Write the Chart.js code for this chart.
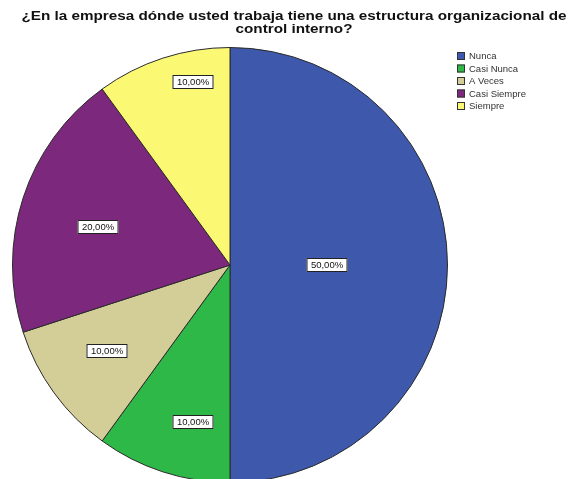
<!DOCTYPE html>
<html>
<head>
<meta charset="utf-8">
<script src="https://cdn.jsdelivr.net/npm/chart.js@4.4.0/dist/chart.umd.min.js"></script>
<style>
  html, body { margin: 0; padding: 0; background: #fff; overflow: hidden; }
  #wrap { position: relative; width: 588px; height: 479px; overflow: hidden; }
  canvas { display: block; }
</style>
</head>
<body>
<div id="wrap"><canvas id="pie" width="588" height="490"></canvas></div>
<script>
'use strict';

// ── Data ─────────────────────────────────────────────────────────
const categories  = ['Nunca', 'Casi Nunca', 'A Veces', 'Casi Siempre', 'Siempre'];
const percentages = [50, 10, 10, 20, 10];
const sliceColors = ['#3e58ac', '#2eb848', '#d3ce97', '#7c287d', '#fbf873'];
const titleLines  = [
    '¿En la empresa dónde usted trabaja tiene una estructura organizacional de',
    'control interno?'
];

// where each value box sits: share of the radius, plus a small angular nudge (deg)
const labelRadius = [0.445, 0.74, 0.69, 0.63, 0.86];
const labelShift  = [0, -4.7, 1, -2, 6.6];

const FONT = '"Liberation Sans", Arial, sans-serif';
const fmtPct = v => v.toFixed(2).replace('.', ',') + '%';

// ── Title, legend and value boxes (SPSS look) ────────────────────
const spssDecor = {
    id: 'spssDecor',
    afterDatasetsDraw(chart) {
        const ctx = chart.ctx;
        const meta = chart.getDatasetMeta(0);
        ctx.save();
        ctx.font = '9.5px ' + FONT;
        ctx.textAlign = 'center';
        ctx.textBaseline = 'middle';
        meta.data.forEach((arc, i) => {
            const { x, y, startAngle, endAngle, outerRadius } =
                arc.getProps(['x', 'y', 'startAngle', 'endAngle', 'outerRadius'], true);
            const mid = (startAngle + endAngle) / 2 + labelShift[i] * Math.PI / 180;
            const px = Math.round(x + Math.cos(mid) * outerRadius * labelRadius[i]);
            const py = Math.round(y + Math.sin(mid) * outerRadius * labelRadius[i]);
            const txt = fmtPct(percentages[i]);
            const w = Math.ceil(ctx.measureText(txt).width) + 8;
            const h = 14;
            ctx.fillStyle = '#fff';
            ctx.fillRect(px - w / 2, py - h / 2, w, h);
            ctx.strokeStyle = '#222';
            ctx.lineWidth = 1;
            ctx.strokeRect(px - w / 2 + 0.5, py - h / 2 + 0.5, w - 1, h - 1);
            ctx.fillStyle = '#111';
            ctx.fillText(txt, px, py + 0.5);
        });
        ctx.restore();
    },
    afterDraw(chart) {
        const ctx = chart.ctx;
        ctx.save();

        // title, two centred bold lines
        ctx.font = 'bold 12px ' + FONT;
        ctx.fillStyle = '#111';
        ctx.textAlign = 'center';
        ctx.textBaseline = 'middle';
        const sx = 545 / ctx.measureText(titleLines[0]).width;
        titleLines.forEach((line, i) => {
            ctx.save();
            ctx.translate(chart.width / 2, 17 + i * 12.5);
            ctx.scale(sx, 1);
            ctx.fillText(line, 0, 0);
            ctx.restore();
        });

        // legend, top right
        ctx.font = '9.5px ' + FONT;
        ctx.textAlign = 'left';
        categories.forEach((name, i) => {
            const y = 56 + i * 12.5;
            ctx.fillStyle = sliceColors[i];
            ctx.fillRect(457, y - 4, 8, 8);
            ctx.strokeStyle = '#333';
            ctx.lineWidth = 1;
            ctx.strokeRect(457.5, y - 3.5, 7, 7);
            ctx.fillStyle = '#333';
            ctx.fillText(name, 469, y + 0.5);
        });
        ctx.restore();
    }
};

new Chart(document.getElementById('pie'), {
    type: 'pie',
    data: {
        labels: categories,
        datasets: [{
            data: percentages,
            backgroundColor: sliceColors,
            borderColor: '#2a2a2a',
            borderWidth: 1
        }]
    },
    options: {
        responsive: false,
        devicePixelRatio: 1,
        animation: false,
        layout: { padding: { left: 12, right: 140, top: 47, bottom: 7 } },
        plugins: {
            legend: { display: false },
            title: { display: false },
            tooltip: { enabled: false }
        }
    },
    plugins: [spssDecor]
});
</script>
</body>
</html>
